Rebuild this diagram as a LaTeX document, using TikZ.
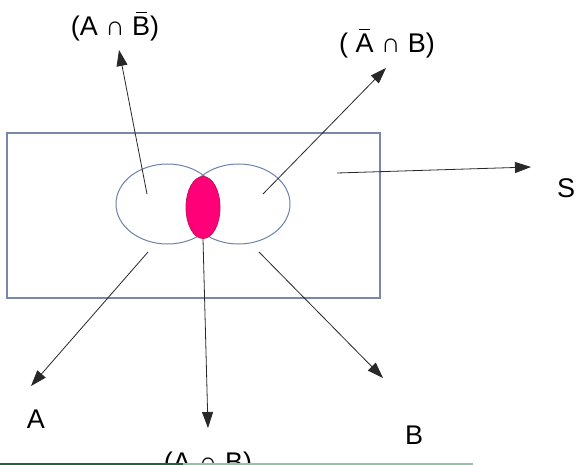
\documentclass[tikz,border=0pt]{standalone}
\usepackage{fontspec}
\setmainfont{Liberation Sans}
\usetikzlibrary{arrows.meta}
\definecolor{boxc}{RGB}{120,135,170}
\definecolor{ellc}{RGB}{110,130,170}
\definecolor{pinkf}{RGB}{255,0,120}
\definecolor{pinkd}{RGB}{190,20,90}
\definecolor{lineg}{RGB}{40,40,40}
\definecolor{gdark}{RGB}{30,100,60}
\definecolor{glight}{RGB}{140,200,165}
\newcommand\overbarred[1]{\setbox0\hbox{#1}\rlap{\hbox to \wd0{\hss\raisebox{\dimexpr\ht0+4pt\relax}{\rule{0.62\wd0}{1.3pt}}\hss}}\box0\relax}
\begin{document}
\begin{tikzpicture}[x=1pt,y=-1pt,
  arr/.style={draw=lineg, line width=0.8pt, -{Triangle[length=16pt,width=11pt]}},
  lbl/.style={font=\fontsize{27}{30}\selectfont, anchor=base, inner sep=0pt, text=black}]
\useasboundingbox (0,0) rectangle (583,465);
\clip (0,0) rectangle (583,465);
\fill[white] (0,0) rectangle (583,465);
% universe
\draw[boxc, line width=1.1pt] (7,133) rectangle (380,298);
% sets
\draw[ellc, line width=1pt] (167.5,204) ellipse [x radius=51.5, y radius=40];
\draw[ellc, line width=1pt] (238.5,204) ellipse [x radius=51.5, y radius=40];
\draw[pinkd, fill=pinkf, line width=0.8pt] (203,207.5) ellipse [x radius=17, y radius=31];
% arrow anchors
\coordinate (s1) at (147,194);
\coordinate (t1) at (119,50);
\coordinate (s2) at (263,194);
\coordinate (t2) at (386,68);
\coordinate (s3) at (337,173);
\coordinate (t3) at (531,167);
\coordinate (s4) at (148,252);
\coordinate (t4) at (31,386);
\coordinate (s5) at (203,239);
\coordinate (t5) at (208,428);
\coordinate (s6) at (259,252);
\coordinate (t6) at (383,378);
\draw[arr] (s1) -- (t1);
\draw[arr] (s2) -- (t2);
\draw[arr] (s3) -- (t3);
\draw[arr] (s4) -- (t4);
\draw[arr] (s5) -- (t5);
\draw[arr] (s6) -- (t6);
% labels
\node[lbl] (l1) at (115,36) {(A ∩ \overbarred{B})};
\node[lbl] (l2) at (387,53) {( \overbarred{A} ∩ B)};
\node[lbl] (l3) at (566,197) {S};
\node[lbl] (l4) at (36,428) {A};
\node[lbl] (l5) at (208,471) {(A ∩ B)};
\node[lbl] (l6) at (414,444) {B};
% bottom strip
\fill[gdark] (0,462.5) rectangle (183,465);
\fill[glight] (183,462.5) rectangle (473,465);
\end{tikzpicture}
\end{document}
